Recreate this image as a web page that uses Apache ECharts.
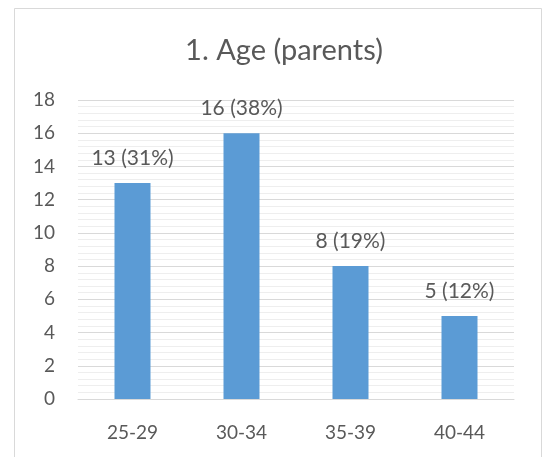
<!DOCTYPE html>
<html>
<head>
<meta charset="utf-8">
<style>
  html, body { margin: 0; padding: 0; background: #fff; }
  #chart { width: 542px; height: 457px; }
</style>
<script src="https://cdn.jsdelivr.net/npm/echarts@6/dist/echarts.min.js"></script>
</head>
<body>
<div id="chart"></div>
<script>
// Age groups of parents and how many fall in each
const categories = ['25-29', '30-34', '35-39', '40-44'];
const counts = [13, 16, 8, 5];
const shares = ['31%', '38%', '19%', '12%'];
const yTicks = [0, 2, 4, 6, 8, 10, 12, 14, 16, 18];

const FONT = 'Lato, "Open Sans", sans-serif';
const TEXT = '#595959';

const chart = echarts.init(document.getElementById('chart'), null, { renderer: 'canvas' });
chart.setOption({
  animation: false,
  backgroundColor: '#ffffff',
  title: {
    text: '1. Age (parents)',
    left: 279,
    top: 31,
    textAlign: 'center',
    textStyle: { fontFamily: FONT, fontSize: 29, fontWeight: 'normal', color: TEXT }
  },
  graphic: [{
    type: 'rect',
    shape: { x: 14.5, y: 8.5, width: 527, height: 500 },
    style: { fill: 'none', stroke: '#d9d9d9', lineWidth: 1 },
    silent: true
  }],
  grid: { left: 78, right: 28, top: 100, bottom: 58 },
  xAxis: {
    type: 'category',
    data: categories,
    axisLine: { show: true, lineStyle: { color: '#d9d9d9', width: 1 } },
    axisTick: { show: false },
    axisLabel: { color: TEXT, fontFamily: FONT, fontSize: 19, margin: 24 }
  },
  yAxis: {
    type: 'value',
    min: yTicks[0],
    max: yTicks[yTicks.length - 1],
    interval: 2,
    axisLine: { show: false },
    axisTick: { show: false },
    axisLabel: { color: TEXT, fontFamily: FONT, fontSize: 19, margin: 23 },
    splitLine: { show: true, lineStyle: { color: '#d9d9d9', width: 1 } },
    minorTick: { show: false, splitNumber: 5 },
    minorSplitLine: { show: true, lineStyle: { color: '#eeeeee', width: 1 } }
  },
  series: [{
    type: 'bar',
    data: counts,
    barWidth: 36,
    itemStyle: { color: '#5b9bd5' },
    label: {
      show: true,
      position: 'top',
      distance: 14,
      color: TEXT,
      fontFamily: FONT,
      fontSize: 21,
      formatter: p => counts[p.dataIndex] + ' (' + shares[p.dataIndex] + ')'
    }
  }]
});
</script>
</body>
</html>
